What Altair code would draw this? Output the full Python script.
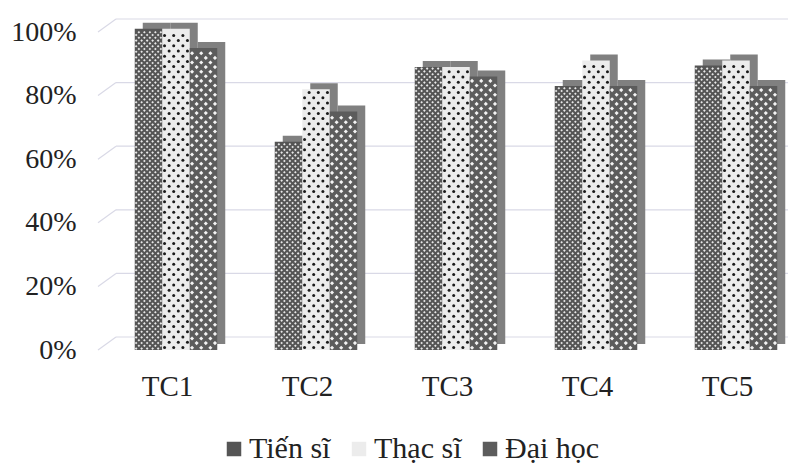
import altair as alt
import pandas as pd

categories = ["TC1", "TC2", "TC3", "TC4", "TC5"]
tien_si = [101, 65.5, 89, 83, 89.5]
thac_si = [101, 82, 89, 91, 91]
dai_hoc = [95, 75, 86, 83, 83]
series_names = ["Tiến sĩ", "Thạc sĩ", "Đại học"]
y_ticks = [0, 20, 40, 60, 80, 100]

rows = []
for s, (name, vals) in enumerate(zip(series_names, [tien_si, thac_si, dai_hoc])):
    for c, v in enumerate(vals):
        rows.append({"cat": c, "s": s, "series": name, "value": v})
df = pd.DataFrame(rows)
grid = pd.DataFrame({"tick": y_ticks})

W, H = 690, 318
STEP = 140.0
BAR = 27.5 / STEP
FONT = "Liberation Serif"
xs = alt.Scale(domain=[-75 / STEP, (W - 75) / STEP], nice=False, zero=False)
ys = alt.Scale(domain=[0, 100], nice=False)

x_axis = alt.Axis(values=list(range(5)), labelExpr="['TC1','TC2','TC3','TC4','TC5'][datum.value]",
                  title=None, domain=False, ticks=False, grid=False, labelFont=FONT, labelFontSize=29,
                  labelColor="#222", labelPadding=22, labelAngle=0, labelOffset=-9)
y_axis = alt.Axis(values=y_ticks, labelExpr="datum.value + '%'", title=None, domain=False, ticks=False,
                  grid=False, labelFont=FONT, labelFontSize=28, labelColor="#222", labelPadding=25)

GRID = "#d9d9e6"
back = alt.Chart(grid).mark_rule(color=GRID, strokeWidth=1.2, yOffset=-13).encode(
    y=alt.Y("tick:Q", scale=ys, axis=y_axis), x=alt.value(15), x2=alt.value(687))
slant = alt.Chart(grid).mark_rule(color=GRID, strokeWidth=1.2, y2Offset=-13).encode(
    y=alt.Y("tick:Q", scale=ys, axis=y_axis), y2="tick:Q", x=alt.value(-3), x2=alt.value(15))


def bar_base(s):
    return alt.Chart(df).transform_filter(f"datum.s == {s}").transform_calculate(
        x0=f"datum.cat + (datum.s - 1.5) * {BAR}", x1=f"datum.cat + (datum.s - 0.5) * {BAR}")


def bar_enc(chart, color=None):
    enc = dict(x=alt.X("x0:Q", scale=xs, axis=x_axis), x2="x1:Q",
               y=alt.Y("value:Q", scale=ys, axis=y_axis), y2=alt.datum(0))
    if color:
        enc["color"] = alt.Color("series:N", scale=alt.Scale(domain=series_names, range=["#555555", "#ececec", "#5c5c5c"]),
                                 sort=series_names,
                                 legend=alt.Legend(title=None, orient="none", legendX=118, legendY=402,
                                                   direction="horizontal", symbolType="square", symbolSize=210,
                                                   symbolStrokeWidth=0, labelFont=FONT, labelFontSize=30,
                                                   labelColor="#222", columnPadding=13, labelOffset=0,
                                                   labelLimit=200))
    return chart.encode(**enc)


def texture(s, n, dy_px, color, shape, size):
    dy = dy_px / 3.18
    return (bar_base(s)
            .transform_calculate(rr=f"sequence(0, floor(datum.value / {dy}))", cc=f"sequence(0, {n})")
            .transform_flatten(["rr"]).transform_flatten(["cc"])
            .transform_calculate(u=f"(datum.cc + 0.25 + 0.5 * (datum.rr % 2)) / {n}",
                                 px=f"datum.x0 + datum.u * {BAR}",
                                 py=f"(datum.rr + 0.5) * {dy}")
            .transform_filter(f"datum.py < datum.value")
            .mark_point(filled=True, shape=shape, size=size, color=color, opacity=1, strokeWidth=0)
            .encode(x=alt.X("px:Q", scale=xs, axis=x_axis), y=alt.Y("py:Q", scale=ys, axis=y_axis)))


tex = [
    texture(0, 5, 2.8, "#e8e8e8", "diamond", 7),
    texture(1, 3, 5.2, "#1a1a1a", "circle", 9),
    texture(2, 3, 4.6, "#f4f4f4", "diamond", 17),
]
layers = [back, slant]
for s in range(3):
    side = bar_enc(bar_base(s).mark_rect(color="#808080", xOffset=8, x2Offset=8, yOffset=-6, y2Offset=-6))
    front = bar_enc(bar_base(s).mark_rect(), color=True)
    layers += [side, front, tex[s]]

chart = alt.layer(*layers).properties(width=W, height=H, padding={"left": 2, "top": 10, "right": 0, "bottom": 0}).configure_view(stroke=None)
chart.save("out.html", embed_options={"renderer": "svg", "actions": False})
